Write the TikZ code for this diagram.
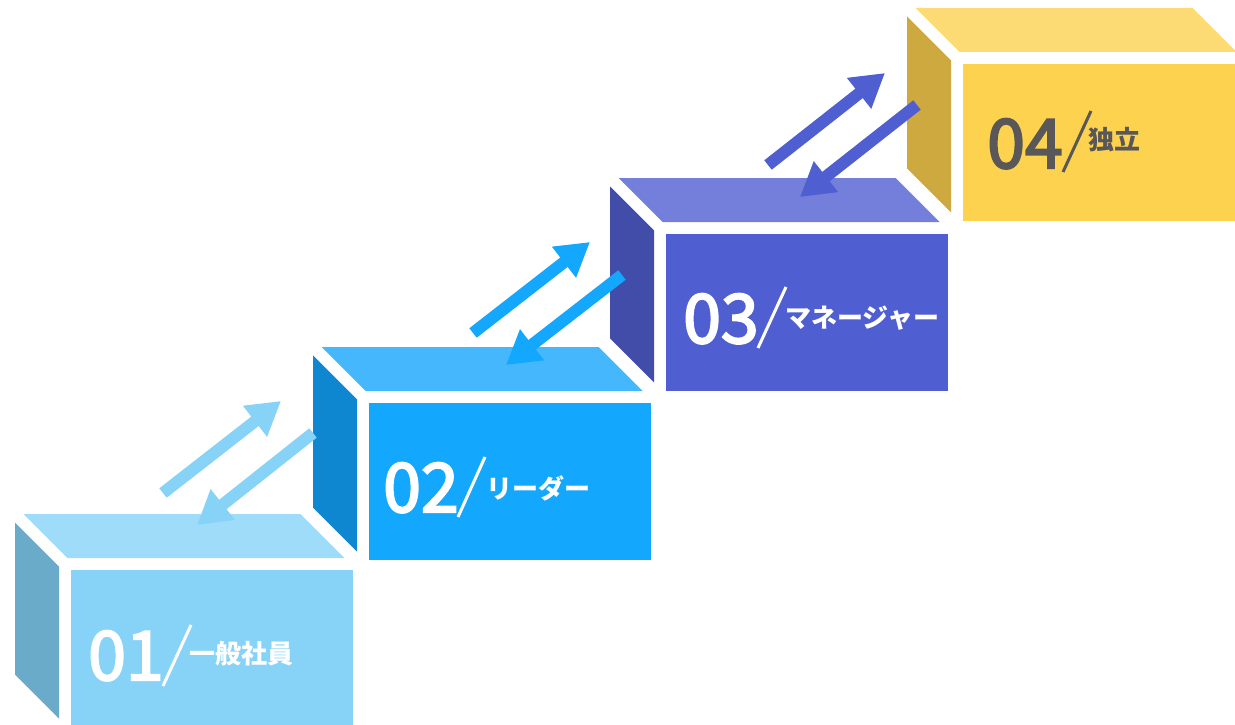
\documentclass[tikz,border=0pt]{standalone}
\usepackage{fontspec}
\newfontfamily\jpfont{Noto Sans CJK JP}
\newfontfamily\numfont{Noto Sans CJK JP}[FakeBold=3]
\usetikzlibrary{arrows.meta}

\definecolor{sA}{HTML}{87D3F8}
\definecolor{tA}{HTML}{9EDCFA}
\definecolor{dA}{HTML}{6AABC9}
\definecolor{sB}{HTML}{14A7FE}
\definecolor{tB}{HTML}{45B8FD}
\definecolor{dB}{HTML}{0F87D0}
\definecolor{sC}{HTML}{4F5FD2}
\definecolor{tC}{HTML}{737FDA}
\definecolor{dC}{HTML}{424CA9}
\definecolor{sD}{HTML}{FDD24F}
\definecolor{tD}{HTML}{FDDB74}
\definecolor{dD}{HTML}{CDA940}
\definecolor{ink}{HTML}{595757}

\tikzstyle{front}=[rectangle,minimum width=282pt,minimum height=157pt,inner sep=0pt,anchor=north west]
\tikzstyle{num}=[font=\numfont\fontsize{68}{68}\selectfont,inner sep=0pt,anchor=base west]
\tikzstyle{title}=[font=\jpfont\bfseries\fontsize{26}{26}\selectfont,inner sep=0pt,anchor=base west]
\tikzstyle{slash}=[draw,line width=3pt]
\tikzstyle{updown}=[draw,line width=12pt,-{Triangle[length=33pt,width=37pt]}]

\begin{document}
\begin{tikzpicture}[x=1pt,y=-1pt]
\useasboundingbox (0,0) rectangle (1235,725);
\clip (0,0) rectangle (1235,725);

    % boxes: top face, side face, front face
    \foreach \X/\Y/\name/\cf/\ct/\cs in {71/570/b1/sA/tA/dA, 369/403/b2/sB/tB/dB, 666/234/b3/sC/tC/dC, 963/64/b4/sD/tD/dD} {
        \fill[\ct] (\X-3.5,\Y-12) -- (\X+273.5,\Y-12) -- (\X+229.5,\Y-56) -- (\X-47.5,\Y-56) -- cycle;
        \fill[\cs] (\X-12,\Y-3.5) -- (\X-12,\Y+148.5) -- (\X-56,\Y+104.5) -- (\X-56,\Y-47.5) -- cycle;
        \node[front,fill=\cf] (\name) at (\X,\Y) {};
    }

    % numbers
    \foreach \x/\y/\name/\num/\tc in {{88/680/n1/01/white}, {383/512/n2/02/white}, {683/343/n3/03/white}, {987/168/n4/04/ink}}
        \node[num,text=\tc] (\name) at (\x,\y) {\num};

    \foreach \xa/\ya/\xb/\yb/\tc in {191/625/163/686/white, 485/457/458/517/white, 786/287/758/348/white, 1091/111/1063/172/ink}
        \draw[slash,\tc] (\xa,\ya) -- (\xb,\yb);

    \foreach \x/\y/\name/\txt/\tc in {189/663/t1/一般社員/white, 486/498/t2/リーダー/white, 785/327/t3/マネージャー/white, 1088/149/t4/独立/ink}
        \node[title,text=\tc] (\name) at (\x,\y) {\txt};

    % arrows between the steps
    \foreach \name/\x/\y in {u1s/163/493, u1e/281/401, d1s/313/433, d1e/197/525,
                             u2s/473/333, u2e/590/242, d2s/622/275, d2e/506/365,
                             u3s/768/165, u3e/885/73, d3s/917/105, d3e/800/197}
        \coordinate (\name) at (\x,\y);

    \foreach \source/\dest/\c in {u1s/u1e/sA, d1s/d1e/sA, u2s/u2e/sB, d2s/d2e/sB, u3s/u3e/sC, d3s/d3e/sC}
        \path[updown,\c] (\source) -- (\dest);

\end{tikzpicture}
\end{document}
